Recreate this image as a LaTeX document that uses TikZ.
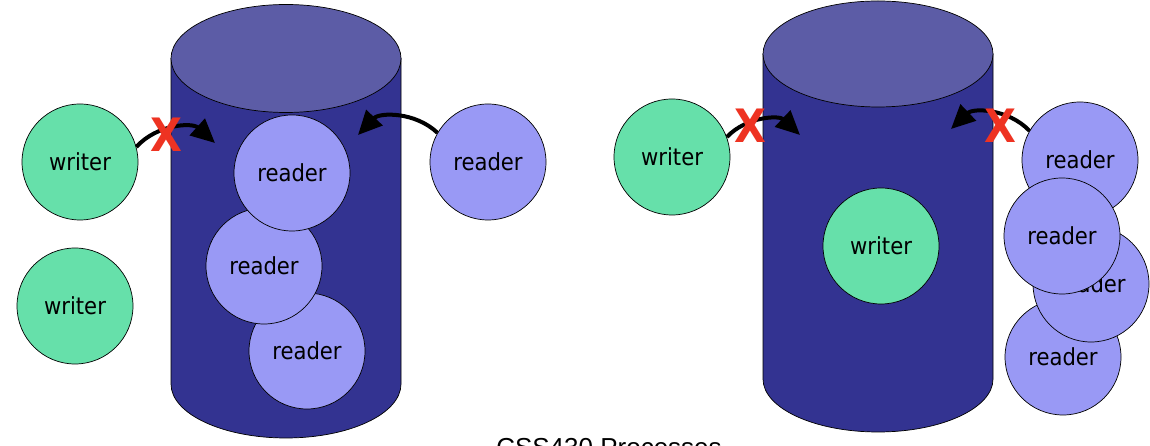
\documentclass[tikz,border=0pt]{standalone}
\usepackage{fontspec}
\usepackage{tikz}
\usetikzlibrary{arrows.meta}
\newfontfamily\labelfont{DejaVu Sans Condensed}
\newfontfamily\markfont{DejaVu Sans Condensed Bold}
\newfontfamily\titlefont{Liberation Sans}
\definecolor{cylside}{RGB}{51,51,145}
\definecolor{cyltop}{RGB}{92,92,166}
\definecolor{readercol}{RGB}{153,153,245}
\definecolor{writercol}{RGB}{102,224,170}
\definecolor{xred}{RGB}{238,51,34}
\tikzset{
    proc/.style={circle,draw=black,line width=0.7pt,minimum size=116pt,inner sep=0pt,font=\labelfont\fontsize{23.5}{23.5}\selectfont},
    reader/.style={proc,fill=readercol},
    writer/.style={proc,fill=writercol},
    blockmark/.style={text=xred,font=\markfont\fontsize{46}{46}\selectfont,inner sep=0pt},
    arr/.style={-{Triangle[length=24pt,width=22pt]},line width=4pt,black}
}
\newcommand{\cylinder}[4]{%
    \filldraw[fill=cylside,draw=black,line width=0.7pt] (#1-115,#2) -- (#1-115,#3)
        arc[start angle=180,end angle=360,x radius=115,y radius=#4] -- (#1+115,#2) -- cycle;
    \filldraw[fill=cyltop,draw=black,line width=0.7pt] (#1,#2) ellipse [x radius=115,y radius=#4];
}

\begin{document}
\begin{tikzpicture}[x=1pt,y=1pt]
    \useasboundingbox (0,0) rectangle (1150,446);
    \fill[white] (0,0) rectangle (1150,446);

    \cylinder{286}{387.5}{62}{54}
    \cylinder{878}{392}{67}{53}

    % left side
    \node[writer] (w1) at (80,284) {writer};
    \node[writer] (w2) at (75,140) {writer};
    \node[reader] (r3) at (307,95) {reader};
    \node[reader] (r2) at (264,180) {reader};
    \node[reader] (r1) at (292,273) {reader};
    \node[reader] (r4) at (488,284) {reader};
    \coordinate (t1) at (215,303);
    \coordinate (t2) at (358,311);

    % right side
    \node[writer] (w3) at (672,289) {writer};
    \node[writer] (w4) at (881,200) {writer};
    \node[reader] (r5) at (1080,286) {reader};
    \node[reader] (r6) at (1063,89) {reader};
    \node[reader] (r7) at (1091,162) {reader};
    \node[reader] (r8) at (1062,210) {reader};
    \coordinate (t3) at (800,311);
    \coordinate (t4) at (951,317);

    \path
    (w1.15) [arr] edge [bend left=45] (t1)
    (r4.150) [arr] edge [bend right=45] (t2)
    (w3.20) [arr] edge [bend left=45] (t3)
    (r5.150) [arr] edge [bend right=45] (t4);

    \node[blockmark] (x1) at (166,311) {X};
    \node[blockmark] (x2) at (750,320) {X};
    \node[blockmark] (x3) at (1000,320) {X};

    \node[anchor=base,font=\titlefont\fontsize{26}{26}\selectfont,inner sep=0pt] (title) at (609,-11) {CSS430 Processes};
\end{tikzpicture}
\end{document}
